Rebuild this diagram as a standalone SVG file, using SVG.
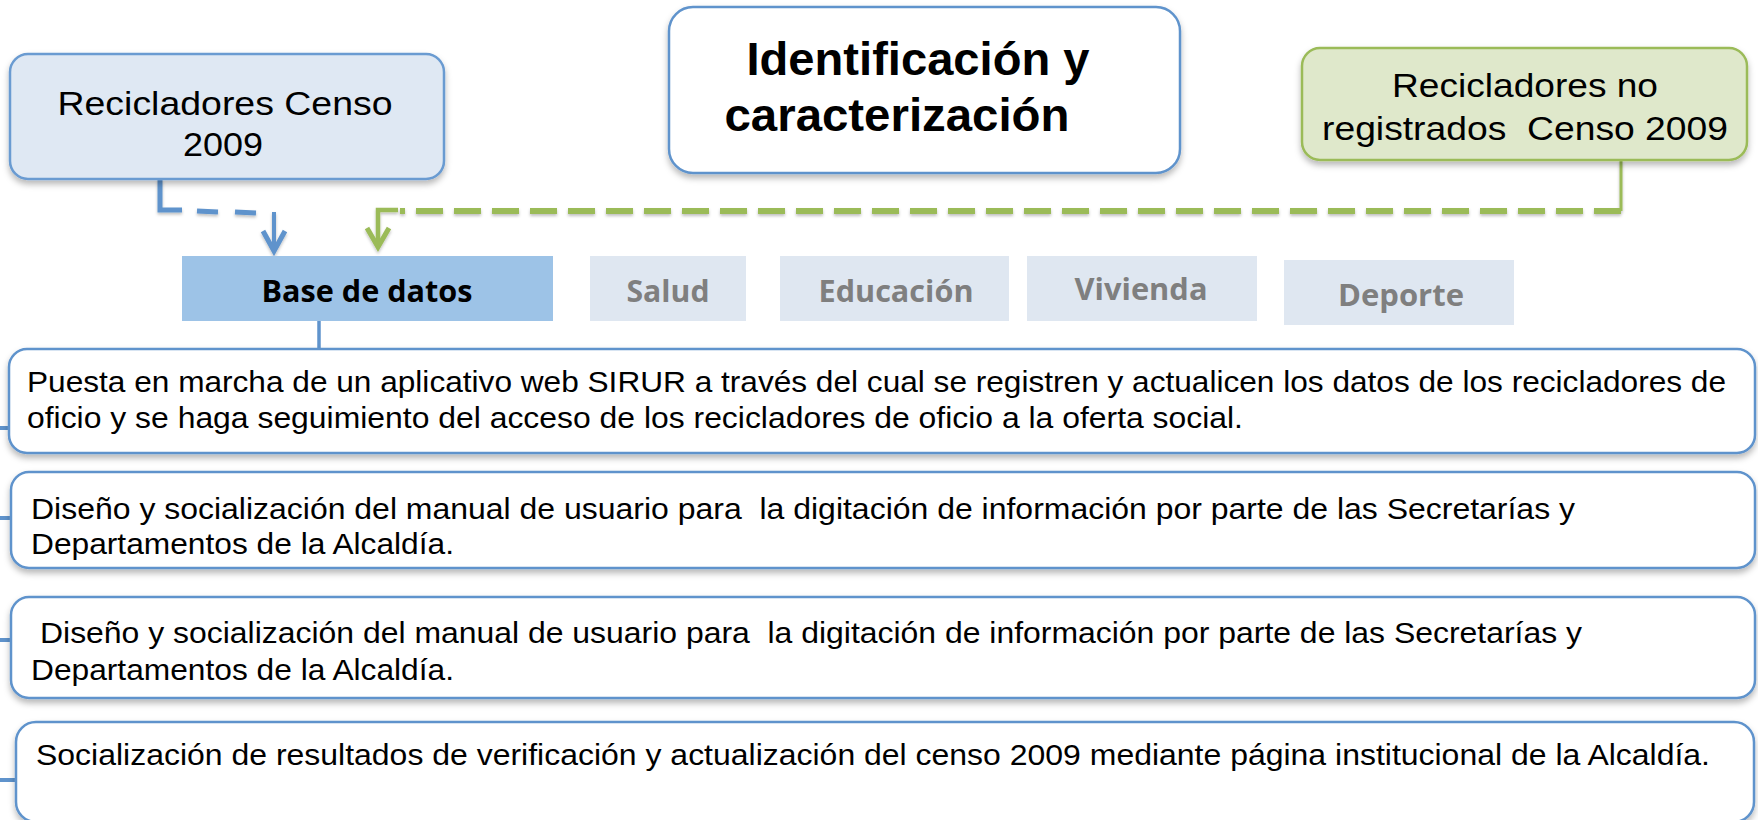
<svg xmlns="http://www.w3.org/2000/svg" width="1758" height="820" viewBox="0 0 1758 820">
<defs>
<filter id="sh" x="-5%" y="-20%" width="110%" height="150%">
<feDropShadow dx="0" dy="4" stdDeviation="3" flood-color="#000" flood-opacity="0.28"/>
</filter>
<filter id="lsh" x="-5%" y="-50%" width="110%" height="300%">
<feDropShadow dx="0" dy="2" stdDeviation="1.5" flood-color="#000" flood-opacity="0.25"/>
</filter>
<style>
.t{font-family:"Liberation Sans",Arial,sans-serif;fill:#000}
.b{font-size:30px}
.box{fill:#fff;stroke:#5f93cc;stroke-width:2.5}
.tab{font-family:"Open Sans","Liberation Sans",sans-serif;font-weight:bold;font-size:31px;text-anchor:middle}
.blue{stroke:#5f93cc;fill:none}
.green{stroke:#9bbb59;fill:none}
</style>
</defs>

<g id="connectors">
<line class="blue" x1="444" y1="68" x2="669" y2="68" stroke-width="5" filter="url(#lsh)"/>
<line class="blue" x1="1180" y1="68" x2="1302" y2="68" stroke-width="5" filter="url(#lsh)"/>
<g filter="url(#lsh)">
<polyline class="blue" points="160,179 160,210 182,210" stroke-width="5"/>
<line class="blue" x1="197" y1="211" x2="218" y2="212" stroke-width="5"/>
<line class="blue" x1="235" y1="212" x2="256" y2="213" stroke-width="5"/>
<line class="blue" x1="274" y1="212" x2="274" y2="250" stroke-width="4"/>
<polyline class="blue" points="263,231 274,251 285,231" stroke-width="5" stroke-linejoin="miter"/>
<line class="green" x1="1621" y1="160" x2="1621" y2="211" stroke-width="3"/>
<line class="green" x1="1621" y1="211" x2="400" y2="211" stroke-width="6" stroke-dasharray="27 11"/>
<polyline class="green" points="398,210 378,210 378,246" stroke-width="4.5"/>
<polyline class="green" points="367,228 378,247 389,228" stroke-width="5" stroke-linejoin="miter"/>
</g>
<line class="blue" x1="319" y1="321" x2="319" y2="377" stroke-width="3.5"/>
<line class="blue" x1="0" y1="428" x2="9" y2="428" stroke-width="4"/>
<line class="blue" x1="0" y1="518" x2="11" y2="518" stroke-width="4"/>
<line class="blue" x1="0" y1="640" x2="11" y2="640" stroke-width="4"/>
<line class="blue" x1="0" y1="780" x2="16" y2="780" stroke-width="4"/>
</g>

<g id="node-censo">
<rect x="10" y="54" width="434" height="125" rx="18" fill="#dfe8f3" stroke="#6a9bd1" stroke-width="2.5" filter="url(#sh)"/>
<text class="t" x="225" y="115" font-size="34" text-anchor="middle" textLength="335" lengthAdjust="spacingAndGlyphs">Recicladores Censo</text>
<text class="t" x="223" y="156" font-size="34" text-anchor="middle" textLength="80" lengthAdjust="spacingAndGlyphs">2009</text>
</g>

<g id="node-identificacion">
<rect x="669" y="7" width="511" height="166" rx="24" fill="#fff" stroke="#5f93cc" stroke-width="2.5" filter="url(#sh)"/>
<text class="t" x="918" y="75" font-size="46" font-weight="bold" text-anchor="middle" textLength="343" lengthAdjust="spacingAndGlyphs">Identificación y</text>
<text class="t" x="897" y="131" font-size="46" font-weight="bold" text-anchor="middle" textLength="345" lengthAdjust="spacingAndGlyphs">caracterización</text>
</g>

<g id="node-noregistrados">
<rect x="1302" y="48" width="445" height="112" rx="18" fill="#dfe8cb" stroke="#9bbb59" stroke-width="2.5" filter="url(#sh)"/>
<text class="t" x="1525" y="97" font-size="34" text-anchor="middle" textLength="266" lengthAdjust="spacingAndGlyphs">Recicladores no</text>
<text class="t" x="1525" y="140" font-size="34" text-anchor="middle" textLength="406" lengthAdjust="spacingAndGlyphs" xml:space="preserve">registrados  Censo 2009</text>
</g>

<g id="tab-base">
<rect x="182" y="256" width="371" height="65" fill="#9dc3e7"/>
<text class="tab" x="367" y="302" fill="#000" textLength="211" lengthAdjust="spacingAndGlyphs">Base de datos</text>
</g>
<g id="tab-salud">
<rect x="590" y="256" width="156" height="65" fill="#dfe7f1"/>
<text class="tab" x="668" y="302" fill="#7f7f7f" textLength="83" lengthAdjust="spacingAndGlyphs">Salud</text>
</g>
<g id="tab-educacion">
<rect x="780" y="256" width="229" height="65" fill="#dfe7f1"/>
<text class="tab" x="896" y="302" fill="#7f7f7f" textLength="155" lengthAdjust="spacingAndGlyphs">Educación</text>
</g>
<g id="tab-vivienda">
<rect x="1027" y="256" width="230" height="65" fill="#dfe7f1"/>
<text class="tab" x="1141" y="300" fill="#7f7f7f" textLength="133" lengthAdjust="spacingAndGlyphs">Vivienda</text>
</g>
<g id="tab-deporte">
<rect x="1284" y="260" width="230" height="65" fill="#dfe7f1"/>
<text class="tab" x="1401" y="306" fill="#7f7f7f" textLength="126" lengthAdjust="spacingAndGlyphs">Deporte</text>
</g>

<g id="node-sirur">
<rect class="box" x="9" y="349" width="1746" height="104" rx="18" filter="url(#sh)"/>
<text class="t b" x="27" y="392" textLength="1699" lengthAdjust="spacingAndGlyphs">Puesta en marcha de un aplicativo web SIRUR a través del cual se registren y actualicen los datos de los recicladores de</text>
<text class="t b" x="27" y="428" textLength="1216" lengthAdjust="spacingAndGlyphs">oficio y se haga seguimiento del acceso de los recicladores de oficio a la oferta social.</text>
</g>

<g id="node-manual1">
<rect class="box" x="11" y="472" width="1744" height="96" rx="18" filter="url(#sh)"/>
<text class="t b" x="31" y="519" textLength="1544" lengthAdjust="spacingAndGlyphs" xml:space="preserve">Diseño y socialización del manual de usuario para  la digitación de información por parte de las Secretarías y</text>
<text class="t b" x="31" y="554" textLength="423" lengthAdjust="spacingAndGlyphs">Departamentos de la Alcaldía.</text>
</g>

<g id="node-manual2">
<rect class="box" x="11" y="597" width="1744" height="101" rx="18" filter="url(#sh)"/>
<text class="t b" x="40" y="643" textLength="1542" lengthAdjust="spacingAndGlyphs" xml:space="preserve">Diseño y socialización del manual de usuario para  la digitación de información por parte de las Secretarías y</text>
<text class="t b" x="31" y="680" textLength="423" lengthAdjust="spacingAndGlyphs">Departamentos de la Alcaldía.</text>
</g>

<g id="node-socializacion">
<rect class="box" x="16" y="722" width="1738" height="100" rx="20" filter="url(#sh)"/>
<text class="t b" x="36" y="765" textLength="1674" lengthAdjust="spacingAndGlyphs">Socialización de resultados de verificación y actualización del censo 2009 mediante página institucional de la Alcaldía.</text>
</g>
</svg>
